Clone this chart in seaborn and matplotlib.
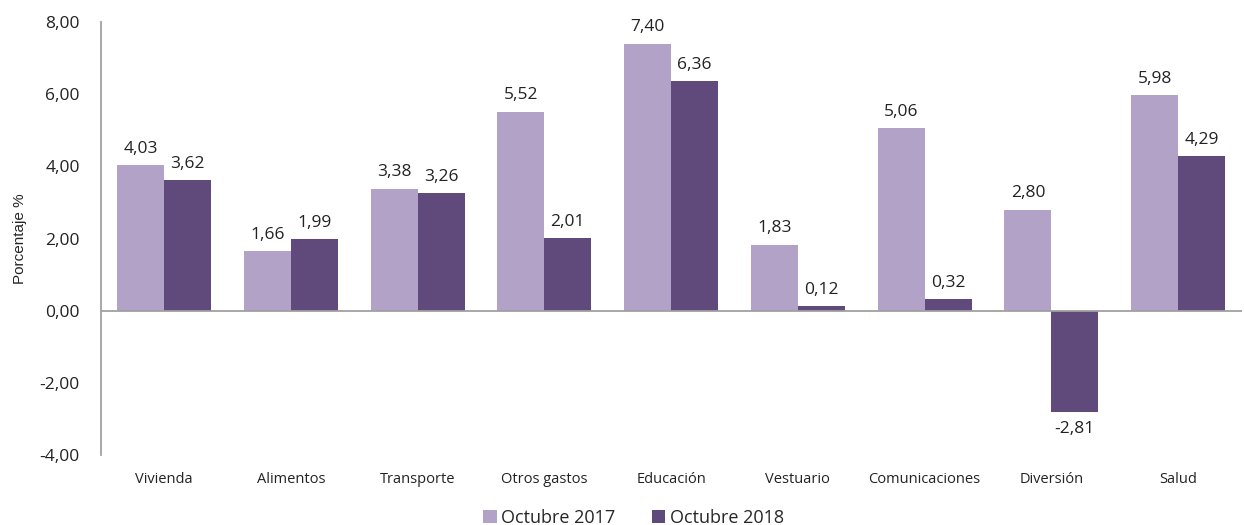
import numpy as np
import pandas as pd
import matplotlib
matplotlib.use("Agg")
import matplotlib.pyplot as plt
import seaborn as sns

categorias = ["Vivienda", "Alimentos", "Transporte", "Otros gastos", "Educación",
              "Vestuario", "Comunicaciones", "Diversión", "Salud"]
oct_2017 = [4.03, 1.66, 3.38, 5.52, 7.40, 1.83, 5.06, 2.80, 5.98]
oct_2018 = [3.62, 1.99, 3.26, 2.01, 6.36, 0.12, 0.32, -2.81, 4.29]
series = ["Octubre 2017", "Octubre 2018"]
colores = ["#B3A2C7", "#604A7B"]

df = pd.DataFrame({
    "categoria": categorias * 2,
    "valor": oct_2017 + oct_2018,
    "serie": [series[0]] * len(categorias) + [series[1]] * len(categorias),
})

sns.set_style("white")
plt.rcParams["font.family"] = ["Open Sans", "DejaVu Sans"]

fig = plt.figure(figsize=(12.44, 5.25), dpi=100)
ax = fig.add_axes([0.081, 0.133, 0.917, 0.825])

sns.barplot(data=df, x="categoria", y="valor", hue="serie", palette=colores,
            width=0.74, saturation=1, linewidth=0, ax=ax, legend=True)

for cont in ax.containers:
    labels = [f"{v:.2f}".replace(".", ",") for v in cont.datavalues]
    ax.bar_label(cont, labels=labels, padding=6, fontsize=12.5, color="#222222")

ax.set_ylim(-4, 8)
ax.set_yticks(np.arange(-4, 8.01, 2))
ax.set_yticklabels([f"{v:.2f}".replace(".", ",") for v in np.arange(-4, 8.01, 2)],
                   fontsize=12.5, color="#222222")
ax.tick_params(axis="x", labelsize=10.5, colors="#222222", length=0, pad=12)
ax.tick_params(axis="y", length=0, pad=15)
ax.set_xlabel("")
ax.set_ylabel("Porcentaje %", fontsize=11, family=["Liberation Sans", "DejaVu Sans"])
ax.yaxis.set_label_coords(-0.065, 0.5)

ax.axhline(0, color="#A0A0A0", linewidth=1.3)
for s in ["top", "right", "bottom"]:
    ax.spines[s].set_visible(False)
ax.spines["left"].set_color("#A0A0A0")
ax.spines["left"].set_linewidth(1.3)

ax.legend(loc="upper center", bbox_to_anchor=(0.467, -0.108), ncol=2, frameon=False,
          fontsize=13, handlelength=0.75, handleheight=0.75, handletextpad=0.25,
          columnspacing=2.0, borderaxespad=0)

fig.savefig("out.png", dpi=100)
